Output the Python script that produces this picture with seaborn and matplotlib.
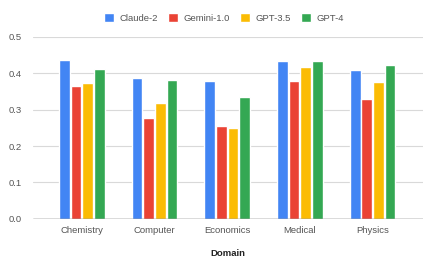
import matplotlib.pyplot as plt
import pandas as pd
import seaborn as sns

domains = ['Chemistry', 'Computer', 'Economics', 'Medical', 'Physics']
models = ['Claude-2', 'Gemini-1.0', 'GPT-3.5', 'GPT-4']
claude2 = [0.437, 0.386, 0.378, 0.434, 0.408]
gemini10 = [0.365, 0.276, 0.255, 0.378, 0.330]
gpt35 = [0.373, 0.318, 0.249, 0.417, 0.377]
gpt4 = [0.413, 0.382, 0.336, 0.434, 0.424]
colors = ['#4285F4', '#EA4335', '#FBBC04', '#34A853']

# long-form data for seaborn
rows = []
for model, vals in zip(models, [claude2, gemini10, gpt35, gpt4]):
    for d, v in zip(domains, vals):
        rows.append({'Domain': d, 'Model': model, 'Score': v})
df = pd.DataFrame(rows)

sns.set_style('white')
plt.rcParams['font.family'] = ['Liberation Sans', 'DejaVu Sans']

fig = plt.figure(figsize=(4.36, 2.70), dpi=100)
ax = fig.add_axes([0.0757, 0.19, 0.894, 0.673])

sns.barplot(data=df, x='Domain', y='Score', hue='Model', order=domains,
            hue_order=models, palette=colors, width=0.64, gap=0.08,
            saturation=1, ax=ax, legend=True)

ax.set_ylim(0, 0.5)
ax.set_xlim(-0.67, 4.69)
ax.set_yticks([0, 0.1, 0.2, 0.3, 0.4, 0.5])
ax.set_yticklabels(['0.0', '0.1', '0.2', '0.3', '0.4', '0.5'])
ax.yaxis.grid(True, color='#d9d9d9', linewidth=0.8)
ax.set_axisbelow(True)
for s in ax.spines.values():
    s.set_visible(False)
ax.axhline(0, color='#555555', linewidth=1.0)
ax.tick_params(axis='both', length=0, labelsize=6.8, colors='#555555', pad=5)
ax.tick_params(axis='y', pad=8)
ax.set_ylabel('')
ax.set_xlabel('Domain', fontsize=6.8, fontweight='bold', color='#222222', labelpad=10)

handles, labels = ax.get_legend_handles_labels()
ax.legend(handles, labels, loc='center', bbox_to_anchor=(0.49, 1.105), ncol=4,
          frameon=False, fontsize=6.8, handlelength=1.0, handleheight=1.0,
          handletextpad=0.6, columnspacing=1.1, labelcolor='#555555')

fig.savefig('out.png', dpi=100)
